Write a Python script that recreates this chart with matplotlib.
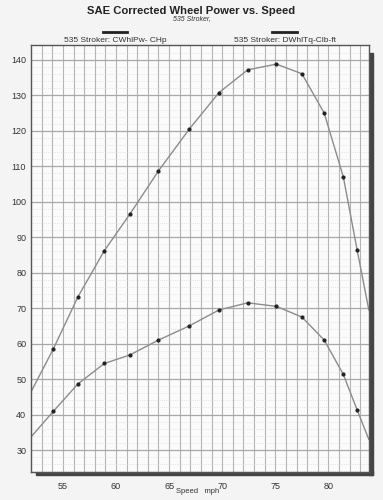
import numpy as np
import matplotlib.pyplot as plt
from matplotlib.patches import Rectangle
from matplotlib.lines import Line2D

plt.rcParams['font.family'] = ['Liberation Sans', 'DejaVu Sans']

# data
speed = [52.0, 54.1, 56.4, 58.9, 61.3, 64.0, 66.9, 69.7, 72.4, 75.1, 77.5, 79.6, 81.4, 82.7, 83.8]
power = [46.4, 58.5, 73.1, 86.2, 96.5, 108.7, 120.5, 130.8, 137.2, 138.8, 136.1, 125.0, 107.0, 86.4, 69.5]
torque = [33.7, 40.9, 48.6, 54.4, 56.8, 61.0, 65.0, 69.5, 71.5, 70.5, 67.5, 61.0, 51.3, 41.3, 33.0]
xticks = [55, 60, 65, 70, 75, 80]
yticks = [30, 40, 50, 60, 70, 80, 90, 100, 110, 120, 130, 140]

bg = '#f4f4f4'
fig = plt.figure(figsize=(3.83, 5.0), dpi=100, facecolor=bg)
ax = fig.add_axes([0.081, 0.056, 0.882, 0.854])
ax.set_facecolor('#fbfbfb')

# drop shadow right + bottom
fig.add_artist(Rectangle((0.963, 0.050), 0.011, 0.845, transform=fig.transFigure,
                         color='#444444', zorder=0))
fig.add_artist(Rectangle((0.095, 0.050), 0.879, 0.008, transform=fig.transFigure,
                         color='#444444', zorder=0))

ax.set_xlim(52, 83.8)
ax.set_ylim(23.8, 144.2)

ax.set_xticks(xticks)
ax.set_yticks(yticks)
ax.set_xticks(np.arange(52, 84, 1), minor=True)
ax.set_yticks(np.arange(24, 144, 2), minor=True)
ax.grid(which='minor', axis='x', color='#b4b4b4', linewidth=0.8)
ax.grid(which='major', axis='x', color='#b4b4b4', linewidth=0.8)
ax.grid(which='major', axis='y', color='#a8a8a8', linewidth=0.9)
ax.grid(which='minor', axis='y', color='#d4d4d4', linewidth=0.5, linestyle=':')
ax.set_axisbelow(True)
ax.tick_params(which='both', length=0, labelsize=6.5, colors='#333333')
ax.tick_params(axis='x', pad=7)
for s in ax.spines.values():
    s.set_color('#555555')
    s.set_linewidth(1.0)

# point speeds exclude the two edge ends
ax.plot(speed, power, color='#8c8c8c', linewidth=1.0)
ax.plot(speed, torque, color='#8c8c8c', linewidth=1.0)
ax.plot(speed[1:-1], power[1:-1], 'o', color='#222222', markersize=2.0)
ax.plot(speed[1:-1], torque[1:-1], 'o', color='#222222', markersize=2.0)

fig.text(0.50, 0.988, 'SAE Corrected Wheel Power vs. Speed', ha='center', va='top',
         fontsize=8.1, weight='bold', color='#222222')
fig.text(0.50, 0.970, '535 Stroker,', ha='center', va='top', fontsize=5,
         style='italic', color='#333333')

# legend line samples and labels
fig.add_artist(Line2D([0.269, 0.332], [0.936, 0.936], color='#222222', linewidth=2))
fig.add_artist(Line2D([0.710, 0.775], [0.936, 0.936], color='#222222', linewidth=2))
fig.text(0.30, 0.919, '535 Stroker: CWhlPw- CHp', ha='center', va='center',
         fontsize=6, color='#333333')
fig.text(0.745, 0.919, '535 Stroker: DWhlTq-Clb-ft', ha='center', va='center',
         fontsize=6, color='#333333')

fig.text(0.515, 0.010, 'Speed   mph', ha='center', va='bottom', fontsize=5.5,
         color='#333333')

fig.savefig('out.png', dpi=100, facecolor=bg)
